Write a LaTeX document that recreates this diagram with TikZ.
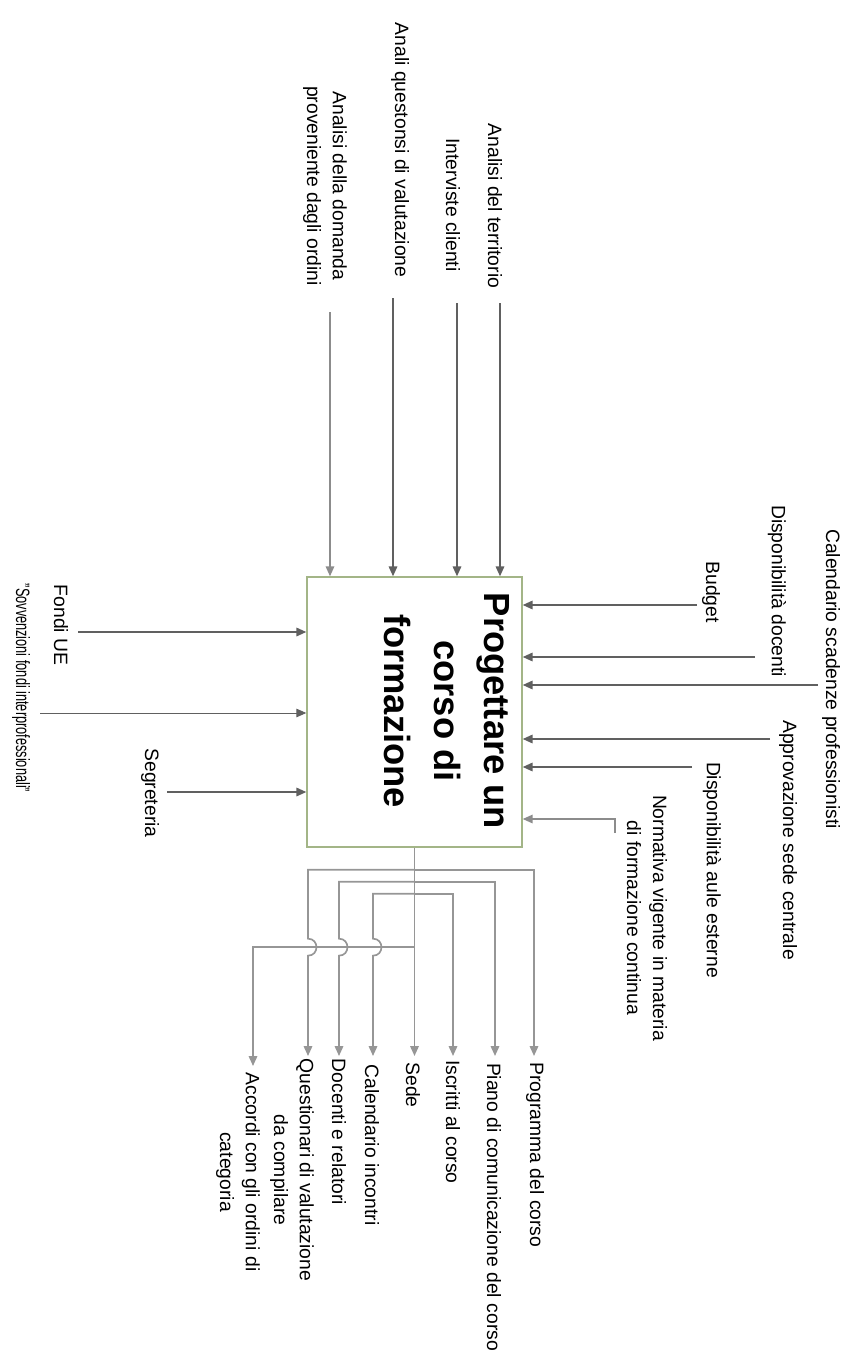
\documentclass[tikz,border=0pt]{standalone}
\usepackage{fontspec}
\setmainfont{Liberation Sans}
\usetikzlibrary{arrows.meta,positioning,calc}
\definecolor{boxgreen}{RGB}{163,181,135}
\definecolor{arrdark}{RGB}{96,96,96}
\definecolor{arrlight}{RGB}{140,140,140}
\definecolor{outgray}{RGB}{150,150,150}
\newcommand{\lblfont}{\fontsize{11}{14.7}\selectfont}
\newcommand{\ttlfont}{\fontsize{20.7}{28.3}\selectfont\bfseries}
\tikzset{
  >={Triangle[length=5.6pt,width=4.8pt]},
  lbl/.style    ={rotate=-90, inner sep=0pt, align=center, font=\lblfont},
  ttl/.style    ={rotate=-90, inner sep=0pt, align=center, font=\ttlfont},
  procbox/.style={rectangle, draw=boxgreen, line width=0.8pt,
                  minimum width=4.3cm, minimum height=5.4cm, inner sep=0pt},
  darr/.style   ={->, draw=arrdark, line width=0.95pt},
  thinarr/.style={->, draw=arrdark, line width=0.55pt},
  larr/.style   ={->, draw=arrlight, line width=0.85pt},
  oarr/.style   ={->, draw=outgray, line width=0.95pt},
  hop/.style    ={out=0, in=0, looseness=1.7},
}

\begin{document}
\begin{tikzpicture}[x=0.02cm, y=-0.02cm]
\useasboundingbox (0,0) rectangle (851,1359);

% --- the activity -----------------------------------------------------
\node[procbox] (proc)  at (414.5,712) {};
\node[ttl]     (title) at (447,711) {Progettare un\\corso di\\formazione};

% --- labels above ------------------------------------------------------
\node[lbl] (terr) at (495,206) {Analisi del territorio};
\node[lbl] (intv) at (453,205) {Interviste clienti};
\node[lbl] (qval) at (400,150) {Anali questonsi di  valutazione};
\node[lbl] (dom)  at (325,186) {Analisi della domanda\\proveniente dagli ordini};

% --- labels on the right -----------------------------------------------
\node[lbl] (budg) at (711,592) {Budget};
\node[lbl] (ddoc) at (777,591) {Disponibilità docenti};
\node[lbl] (csca) at (831,679) {Calendario scadenze professionisti};
\node[lbl] (appr) at (788,840) {Approvazione sede centrale};
\node[lbl] (daul) at (712,870) {Disponibilità aule esterne};
\node[lbl] (norm) at (647,918) {Normativa vigente in materia\\di formazione continua};

% --- labels on the left ------------------------------------------------
\node[lbl] (fue)  at (61,625)  {Fondi UE};
\node[lbl, xscale=0.66] (sovv) at (21,688) {"Sovvenzioni fondi interprofessionali"};
\node[lbl] (segr) at (150,793) {Segreteria};

% --- outputs below -----------------------------------------------------
\node[lbl] (prog)  at (535,1155) {Programma del corso};
\node[lbl] (piano) at (494,1207) {Piano di comunicazione del corso};
\node[lbl] (iscr)  at (453,1122) {Iscritti al corso};
\node[lbl] (sede)  at (413,1085) {Sede};
\node[lbl] (cal)   at (372,1145) {Calendario incontri};
\node[lbl] (doc)   at (339,1132) {Docenti e relatori};
\node[lbl] (quest) at (292,1170) {Questionari di valutazione\\da compilare};
\node[lbl] (acc)   at (238,1172) {Accordi con gli ordini di\\categoria};

% --- free ends of the connectors ---------------------------------------
\coordinate (c-terr) at (500,303);
\coordinate (c-intv) at (457,303);
\coordinate (c-qval) at (393,298);
\coordinate (c-dom)  at (330,312);
\coordinate (c-budg) at (697,605);
\coordinate (c-ddoc) at (755,657);
\coordinate (c-csca) at (818,685);
\coordinate (c-appr) at (770,739);
\coordinate (c-daul) at (692,767);
\coordinate (c-norm) at (615,833);
\coordinate (c-fue)  at (78,632);
\coordinate (c-sovv) at (40,713);
\coordinate (c-segr) at (167,792);
\coordinate (t-prog)  at (534,1056);
\coordinate (t-piano) at (495,1056);
\coordinate (t-iscr)  at (453,1056);
\coordinate (t-sede)  at (414.5,1056);
\coordinate (t-cal)   at (373,1056);
\coordinate (t-doc)   at (339,1056);
\coordinate (t-quest) at (308,1056);
\coordinate (t-acc)   at (253,1066);

% --- arrows into the box -----------------------------------------------
\draw[darr] (c-terr) -- (c-terr |- proc.north);
\draw[darr] (c-intv) -- (c-intv |- proc.north);
\draw[darr] (c-qval) -- (c-qval |- proc.north);
\draw[larr] (c-dom)  -- (c-dom |- proc.north);

\draw[darr] (c-budg) -- (c-budg -| proc.east);
\draw[darr] (c-ddoc) -- (c-ddoc -| proc.east);
\draw[darr] (c-csca) -- (c-csca -| proc.east);
\draw[darr] (c-appr) -- (c-appr -| proc.east);
\draw[darr] (c-daul) -- (c-daul -| proc.east);
\draw[larr] (c-norm) |- (proc.east |- 0,819);

\draw[darr]    (c-fue)  -- (c-fue -| proc.west);
\draw[thinarr] (c-sovv) -- (c-sovv -| proc.west);
\draw[darr]    (c-segr) -- (c-segr -| proc.west);

% --- outputs, with hops over the last branch ----------------------------
\draw[oarr] (proc.south) -- (t-sede);
\draw[oarr] (proc.south) ++(0,22) -| (t-prog);
\draw[oarr] (proc.south) ++(0,34) -| (t-piano);
\draw[oarr] (proc.south) ++(0,46) -| (t-iscr);
\draw[oarr] (proc.south) ++(0,22) -| ++(-106.5,69) to[hop] ++(0,17) -- (t-quest);
\draw[oarr] (proc.south) ++(0,34) -| ++(-75.5,57) to[hop] ++(0,17) -- (t-doc);
\draw[oarr] (proc.south) ++(0,46) -| ++(-41.5,45) to[hop] ++(0,17) -- (t-cal);
\draw[oarr] (proc.south) ++(0,99) -| (t-acc);
\end{tikzpicture}
\end{document}
